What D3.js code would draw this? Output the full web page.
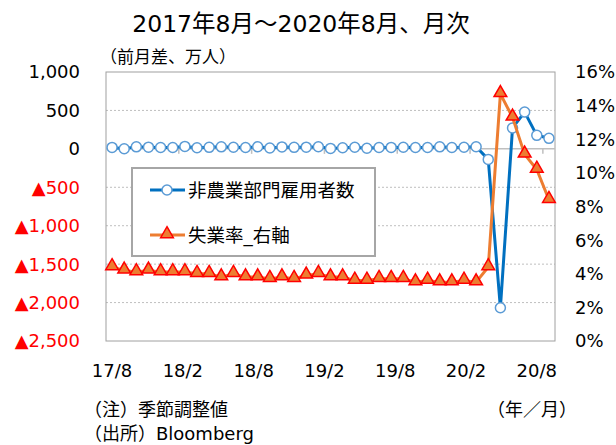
<!DOCTYPE html>
<html>
<head>
<meta charset="utf-8">
<script src="https://cdn.jsdelivr.net/npm/d3@7"></script>
<style>
  body { margin: 0; background: #fff; }
  text { font-family: "DejaVu Sans", "Noto Sans CJK JP", sans-serif; }
</style>
</head>
<body>
<script>
const width = 616,
    height = 445,
    margin = { top: 72, right: 61, bottom: 104, left: 106 };

// 2017/8 - 2020/8
const months = ["17/8","17/9","17/10","17/11","17/12","18/1","18/2","18/3","18/4","18/5","18/6","18/7",
    "18/8","18/9","18/10","18/11","18/12","19/1","19/2","19/3","19/4","19/5","19/6","19/7",
    "19/8","19/9","19/10","19/11","19/12","20/1","20/2","20/3","20/4","20/5","20/6","20/7","20/8"];

// 非農業部門雇用者数 (前月差、万人)
const payrolls = [19, 1, 26, 22, 17, 18, 32, 15, 20, 26, 21, 18,
    27, 11, 25, 20, 22, 27, 6, 15, 21, 8, 18, 19,
    21, 18, 18, 26, 18, 21, 28, -137, -2068, 272, 478, 176, 137];

// 失業率 (%)
const unemp = [4.4, 4.2, 4.1, 4.2, 4.1, 4.1, 4.1, 4.0, 4.0, 3.8, 4.0, 3.8,
    3.8, 3.7, 3.8, 3.7, 3.9, 4.0, 3.8, 3.8, 3.6, 3.6, 3.7, 3.7,
    3.7, 3.5, 3.6, 3.5, 3.5, 3.6, 3.5, 4.4, 14.7, 13.3, 11.1, 10.2, 8.4];

const leftTicks = [1000, 500, 0, -500, -1000, -1500, -2000, -2500];
const rightTicks = [0, 2, 4, 6, 8, 10, 12, 14, 16];
const xLabels = ["17/8", "18/2", "18/8", "19/2", "19/8", "20/2", "20/8"];

const blue = "#0070C0", blueMarker = "#5B9BD5", orange = "#ED7D31", red = "#FF0000";

const svg = d3.select("body").append("svg")
    .attr("width", width)
    .attr("height", height);

const x = d3.scaleBand()
    .domain(months)
    .range([margin.left, width - margin.right]);

const cx = d => x(d) + x.bandwidth() / 2;

// labels are spread a little tighter than the categories, as in the original
const xl = d3.scalePoint()
    .domain(xLabels)
    .range([cx(months[0]), cx(months[months.length - 1]) - x.bandwidth()]);

const yL = d3.scaleLinear()
    .domain([-2500, 1000])
    .range([height - margin.bottom, margin.top]);

const yR = d3.scaleLinear()
    .domain([0, 16])
    .range([height - margin.bottom, margin.top]);

// gridlines
svg.append("g")
    .selectAll("line")
    .data(leftTicks.filter(d => d !== 0 && d !== 1000 && d !== -2500))
    .join("line")
    .attr("x1", margin.left).attr("x2", width - margin.right)
    .attr("y1", d => yL(d)).attr("y2", d => yL(d))
    .attr("stroke", "#BFBFBF")
    .attr("stroke-dasharray", "2,2");

// frame
svg.append("rect")
    .attr("x", margin.left).attr("y", margin.top)
    .attr("width", width - margin.left - margin.right)
    .attr("height", height - margin.top - margin.bottom)
    .attr("fill", "none")
    .attr("stroke", "#A0A0A0");

// zero line with ticks
svg.append("line")
    .attr("x1", margin.left).attr("x2", width - margin.right)
    .attr("y1", yL(0)).attr("y2", yL(0))
    .attr("stroke", "#BFBFBF").attr("stroke-width", 1.5);

svg.append("g")
    .selectAll("line")
    .data(months.filter((d, i) => i > 0 && i % 6 === 0))
    .join("line")
    .attr("x1", d => x(d)).attr("x2", d => x(d))
    .attr("y1", yL(0)).attr("y2", yL(0) + 5)
    .attr("stroke", "#BFBFBF").attr("stroke-width", 1.5);

// left axis labels
svg.append("g")
    .selectAll("text")
    .data(leftTicks)
    .join("text")
    .attr("x", 80)
    .attr("y", d => yL(d))
    .attr("dy", "0.36em")
    .attr("text-anchor", "end")
    .attr("font-size", 18)
    .attr("fill", d => d < 0 ? red : "#000")
    .text(d => d < 0 ? "▲" + d3.format(",")(-d) : d3.format(",")(d));

// right axis labels
svg.append("g")
    .selectAll("text")
    .data(rightTicks)
    .join("text")
    .attr("x", 575)
    .attr("y", d => yR(d))
    .attr("dy", "0.36em")
    .attr("font-size", 18)
    .text(d => d + "%");

// x labels
svg.append("g")
    .selectAll("text")
    .data(xLabels)
    .join("text")
    .attr("x", d => xl(d))
    .attr("y", 377)
    .attr("text-anchor", "middle")
    .attr("font-size", 18)
    .text(d => d);

// payrolls series
const linePay = d3.line()
    .x((d, i) => cx(months[i]))
    .y(d => yL(d));

svg.append("path")
    .datum(payrolls)
    .attr("d", linePay)
    .attr("fill", "none")
    .attr("stroke", blue)
    .attr("stroke-width", 3)
    .attr("stroke-linejoin", "round");

svg.append("g")
    .selectAll("circle")
    .data(payrolls)
    .join("circle")
    .attr("cx", (d, i) => cx(months[i]))
    .attr("cy", d => yL(d))
    .attr("r", 5)
    .attr("fill", "#fff")
    .attr("stroke", blueMarker)
    .attr("stroke-width", 1.5);

// unemployment series
const lineU = d3.line()
    .x((d, i) => cx(months[i]))
    .y(d => yR(d));

svg.append("path")
    .datum(unemp)
    .attr("d", lineU)
    .attr("fill", "none")
    .attr("stroke", orange)
    .attr("stroke-width", 3)
    .attr("stroke-linejoin", "round");

const tri = d3.symbol().type(d3.symbolTriangle).size(70);

svg.append("g")
    .selectAll("path")
    .data(unemp)
    .join("path")
    .attr("transform", (d, i) => "translate(" + cx(months[i]) + "," + (yR(d) - 1) + ")")
    .attr("d", tri)
    .attr("fill", orange)
    .attr("stroke", red)
    .attr("stroke-width", 1.5);

// legend
const legend = svg.append("g");

legend.append("rect")
    .attr("x", 132).attr("y", 168)
    .attr("width", 243).attr("height", 88)
    .attr("fill", "#fff")
    .attr("stroke", "#A6A6A6")
    .attr("stroke-width", 2);

legend.append("line")
    .attr("x1", 150).attr("x2", 185).attr("y1", 190).attr("y2", 190)
    .attr("stroke", blue).attr("stroke-width", 3);
legend.append("circle")
    .attr("cx", 167).attr("cy", 190).attr("r", 5)
    .attr("fill", "#fff").attr("stroke", blueMarker).attr("stroke-width", 1.5);
legend.append("text")
    .attr("x", 188).attr("y", 190).attr("dy", "0.36em")
    .attr("font-size", 18.5)
    .text("非農業部門雇用者数");

legend.append("line")
    .attr("x1", 150).attr("x2", 185).attr("y1", 235).attr("y2", 235)
    .attr("stroke", orange).attr("stroke-width", 3);
legend.append("path")
    .attr("transform", "translate(167,234)")
    .attr("d", tri)
    .attr("fill", orange).attr("stroke", red).attr("stroke-width", 1.5);
legend.append("text")
    .attr("x", 188).attr("y", 235).attr("dy", "0.36em")
    .attr("font-size", 18.5)
    .text("失業率_右軸");

// titles and notes
svg.append("text")
    .attr("x", 301).attr("y", 32)
    .attr("text-anchor", "middle")
    .attr("font-size", 23.5)
    .text("2017年8月～2020年8月、月次");

svg.append("text")
    .attr("x", 100).attr("y", 63)
    .attr("font-size", 17)
    .text("（前月差、万人）");

svg.append("text")
    .attr("x", 84).attr("y", 416)
    .attr("font-size", 18)
    .text("（注）季節調整値");

svg.append("text")
    .attr("x", 487).attr("y", 416)
    .attr("font-size", 18)
    .text("（年／月）");

svg.append("text")
    .attr("x", 84).attr("y", 440)
    .attr("font-size", 18)
    .text("（出所）Bloomberg");
</script>
</body>
</html>
